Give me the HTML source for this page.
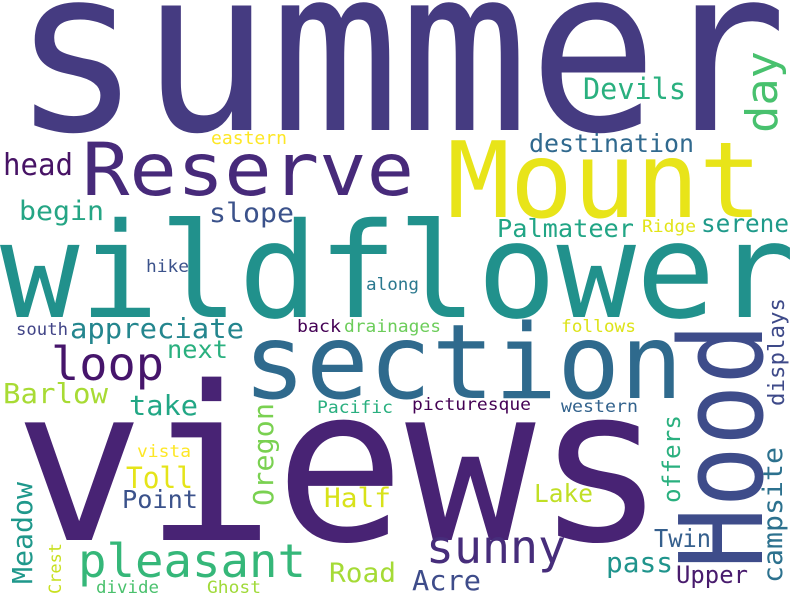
<!DOCTYPE html>
<html><head><meta charset="utf-8"><style>
html,body{margin:0;padding:0;background:#fff;width:800px;height:600px;overflow:hidden}
svg{display:block}
svg text{font-family:"DejaVu Sans Mono","Liberation Mono",monospace}
</style></head><body>
<svg width="800" height="600">
<rect width="800" height="600" fill="#fff"/>
<text x="12" y="130" font-size="228" textLength="775" lengthAdjust="spacingAndGlyphs" fill="#453b81">summer</text>
<text x="14" y="540" font-size="215" textLength="652" lengthAdjust="spacingAndGlyphs" fill="#482374">views</text>
<text x="0" y="317" font-size="132" textLength="795" lengthAdjust="spacingAndGlyphs" fill="#21918c">wildflower</text>
<text x="243" y="398" font-size="103" textLength="440" lengthAdjust="spacingAndGlyphs" fill="#2f6a8d">section</text>
<text x="82" y="195" font-size="73" textLength="332" lengthAdjust="spacingAndGlyphs" fill="#472a7a">Reserve</text>
<text x="447" y="217" font-size="105" textLength="315" lengthAdjust="spacingAndGlyphs" fill="#e8e419">Mount</text>
<text x="762" y="569" font-size="115" textLength="246" lengthAdjust="spacingAndGlyphs" fill="#3e4c8a" transform="rotate(-90 762 569)">Hood</text>
<text x="777" y="133" font-size="44" textLength="82" lengthAdjust="spacingAndGlyphs" fill="#48c16e" transform="rotate(-90 777 133)">day</text>
<text x="784" y="406" font-size="22" textLength="108" lengthAdjust="spacingAndGlyphs" fill="#3e4a89" transform="rotate(-90 784 406)">displays</text>
<text x="782" y="583" font-size="27" textLength="136" lengthAdjust="spacingAndGlyphs" fill="#2c718e" transform="rotate(-90 782 583)">campsite</text>
<text x="273" y="506" font-size="28" textLength="103" lengthAdjust="spacingAndGlyphs" fill="#7ad151" transform="rotate(-90 273 506)">Oregon</text>
<text x="680" y="503" font-size="24" textLength="88" lengthAdjust="spacingAndGlyphs" fill="#2ab07f" transform="rotate(-90 680 503)">offers</text>
<text x="32" y="584" font-size="28" textLength="102" lengthAdjust="spacingAndGlyphs" fill="#1f988b" transform="rotate(-90 32 584)">Meadow</text>
<text x="61" y="594" font-size="17" textLength="51" lengthAdjust="spacingAndGlyphs" fill="#c8e020" transform="rotate(-90 61 594)">Crest</text>
<text x="426" y="563" font-size="46" textLength="140" lengthAdjust="spacingAndGlyphs" fill="#472d7b">sunny</text>
<text x="78" y="577" font-size="46" textLength="228" lengthAdjust="spacingAndGlyphs" fill="#35b779">pleasant</text>
<text x="51" y="380" font-size="46" textLength="113" lengthAdjust="spacingAndGlyphs" fill="#46156b">loop</text>
<text x="70" y="338" font-size="28" textLength="174" lengthAdjust="spacingAndGlyphs" fill="#24868e">appreciate</text>
<text x="583" y="99" font-size="29" textLength="103" lengthAdjust="spacingAndGlyphs" fill="#2ab07f">Devils</text>
<text x="529" y="152" font-size="25" textLength="165" lengthAdjust="spacingAndGlyphs" fill="#30698e">destination</text>
<text x="3" y="175" font-size="30" textLength="70" lengthAdjust="spacingAndGlyphs" fill="#471365">head</text>
<text x="19" y="220" font-size="27" textLength="85" lengthAdjust="spacingAndGlyphs" fill="#25a584">begin</text>
<text x="209" y="222" font-size="27" textLength="85" lengthAdjust="spacingAndGlyphs" fill="#3b528b">slope</text>
<text x="497" y="237" font-size="25" textLength="137" lengthAdjust="spacingAndGlyphs" fill="#21a585">Palmateer</text>
<text x="701" y="232" font-size="25" textLength="88" lengthAdjust="spacingAndGlyphs" fill="#1f9a8a">serene</text>
<text x="642" y="232" font-size="17" textLength="54" lengthAdjust="spacingAndGlyphs" fill="#e2e418">Ridge</text>
<text x="211" y="144" font-size="18" textLength="76" lengthAdjust="spacingAndGlyphs" fill="#fde725">eastern</text>
<text x="146" y="272" font-size="17" textLength="43" lengthAdjust="spacingAndGlyphs" fill="#3b528b">hike</text>
<text x="366" y="290" font-size="17" textLength="53" lengthAdjust="spacingAndGlyphs" fill="#2a788e">along</text>
<text x="16" y="335" font-size="17" textLength="52" lengthAdjust="spacingAndGlyphs" fill="#414487">south</text>
<text x="297" y="332" font-size="17" textLength="44" lengthAdjust="spacingAndGlyphs" fill="#440154">back</text>
<text x="344" y="332" font-size="17" textLength="97" lengthAdjust="spacingAndGlyphs" fill="#6ccd5a">drainages</text>
<text x="561" y="332" font-size="17" textLength="75" lengthAdjust="spacingAndGlyphs" fill="#dde318">follows</text>
<text x="167" y="358" font-size="25" textLength="61" lengthAdjust="spacingAndGlyphs" fill="#2ab07f">next</text>
<text x="3" y="403" font-size="28" textLength="105" lengthAdjust="spacingAndGlyphs" fill="#a8db34">Barlow</text>
<text x="129" y="415" font-size="28" textLength="69" lengthAdjust="spacingAndGlyphs" fill="#22a785">take</text>
<text x="317" y="413" font-size="17" textLength="76" lengthAdjust="spacingAndGlyphs" fill="#29af7f">Pacific</text>
<text x="412" y="410" font-size="17" textLength="119" lengthAdjust="spacingAndGlyphs" fill="#440154">picturesque</text>
<text x="561" y="412" font-size="17" textLength="77" lengthAdjust="spacingAndGlyphs" fill="#33638d">western</text>
<text x="137" y="457" font-size="17" textLength="54" lengthAdjust="spacingAndGlyphs" fill="#fde725">vista</text>
<text x="126" y="488" font-size="29" textLength="67" lengthAdjust="spacingAndGlyphs" fill="#e5e419">Toll</text>
<text x="122" y="508" font-size="25" textLength="76" lengthAdjust="spacingAndGlyphs" fill="#3b528b">Point</text>
<text x="324" y="507" font-size="27" textLength="67" lengthAdjust="spacingAndGlyphs" fill="#d8e219">Half</text>
<text x="534" y="502" font-size="25" textLength="59" lengthAdjust="spacingAndGlyphs" fill="#c0df25">Lake</text>
<text x="654" y="547" font-size="25" textLength="57" lengthAdjust="spacingAndGlyphs" fill="#355f8d">Twin</text>
<text x="606" y="572" font-size="28" textLength="67" lengthAdjust="spacingAndGlyphs" fill="#1f948c">pass</text>
<text x="676" y="583" font-size="24" textLength="72" lengthAdjust="spacingAndGlyphs" fill="#481b6d">Upper</text>
<text x="329" y="582" font-size="27" textLength="67" lengthAdjust="spacingAndGlyphs" fill="#a5db36">Road</text>
<text x="412" y="590" font-size="28" textLength="69" lengthAdjust="spacingAndGlyphs" fill="#3e4c8a">Acre</text>
<text x="96" y="593" font-size="17" textLength="63" lengthAdjust="spacingAndGlyphs" fill="#4ac16d">divide</text>
<text x="207" y="593" font-size="17" textLength="54" lengthAdjust="spacingAndGlyphs" fill="#a0da39">Ghost</text>
</svg>
</body></html>
